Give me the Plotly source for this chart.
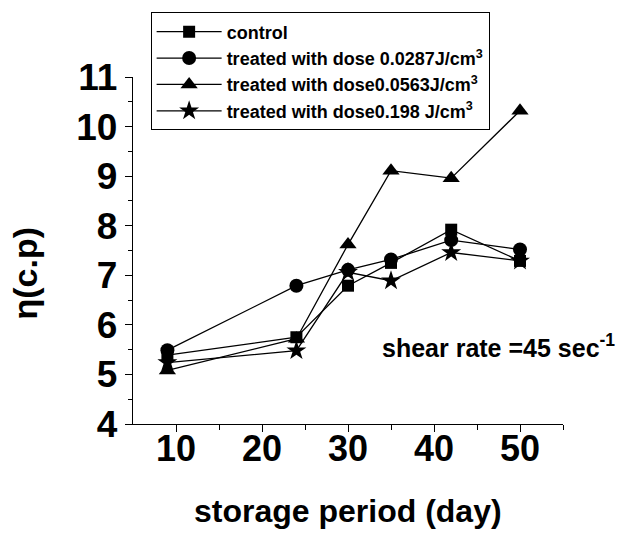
import plotly.graph_objects as go

days = [9, 24, 30, 35, 42, 50]
control = [5.39, 5.75, 6.79, 7.25, 7.92, 7.29]
dose_0287 = [5.49, 6.79, 7.11, 7.32, 7.71, 7.52]
dose_0563 = [5.08, 5.72, 7.62, 9.11, 8.96, 10.32]
dose_198 = [5.24, 5.48, 7.06, 6.89, 7.46, 7.29]

names = [
    "control",
    "treated with dose 0.0287J/cm<sup>3</sup>",
    "treated with dose0.0563J/cm<sup>3</sup>",
    "treated with dose0.198 J/cm<sup>3</sup>",
]
series = [control, dose_0287, dose_0563, dose_198]
symbols = ["square", "circle", "triangle-up", "star"]
sizes = [12, 14, 15, 15]

FONT = "Liberation Sans, Arial, sans-serif"

fig = go.Figure()
for nm, ys, sym, sz in zip(names, series, symbols, sizes):
    fig.add_trace(go.Scatter(
        x=days, y=ys, name=nm, mode="lines+markers",
        line=dict(color="black", width=1.3),
        marker=dict(symbol=sym, size=sz, color="black"),
    ))

fig.update_layout(
    width=633, height=537,
    margin=dict(l=133, r=70, t=71, b=113),
    plot_bgcolor="white", paper_bgcolor="white",
    showlegend=True,
    legend=dict(
        x=0.041, y=1.186, xanchor="left", yanchor="top",
        bgcolor="white", bordercolor="black", borderwidth=1,
        font=dict(family=FONT, size=18, color="black", weight="bold"),
        tracegroupgap=0, itemwidth=65, entrywidth=353, entrywidthmode="pixels",
    ),
    font=dict(family=FONT, color="black"),
)

fig.update_xaxes(
    range=[5, 55], tickvals=[10, 20, 30, 40, 50],
    showline=True, linecolor="black", linewidth=1.3,
    ticks="outside", ticklen=7, tickwidth=1.3, tickcolor="black",
    minor=dict(tickvals=[15, 25, 35, 45, 55], ticks="outside", ticklen=5, tickwidth=1.3, tickcolor="black"),
    showgrid=False, zeroline=False, ticklabelstandoff=-14,
    tickfont=dict(family=FONT, size=36, color="black", weight="bold"),
)
fig.update_yaxes(
    range=[4, 11], tickvals=[4, 5, 6, 7, 8, 9, 10, 11],
    showline=True, linecolor="black", linewidth=1.3,
    ticks="outside", ticklen=7, tickwidth=1.3, tickcolor="black",
    minor=dict(tickvals=[4.5, 5.5, 6.5, 7.5, 8.5, 9.5, 10.5], ticks="outside", ticklen=4, tickwidth=1.3, tickcolor="black"),
    showgrid=False, zeroline=False,
    tickfont=dict(family=FONT, size=37, color="black", weight="bold"),
)

fig.add_annotation(
    text="storage period (day)", xref="paper", yref="paper",
    x=0.5, y=-0.25, xanchor="center", yanchor="middle", showarrow=False,
    font=dict(family=FONT, size=32, color="black", weight="bold"),
)
fig.add_annotation(
    text="η(c.p)", xref="paper", yref="paper",
    x=-0.25, y=0.435, xanchor="center", yanchor="middle", showarrow=False,
    textangle=-90,
    font=dict(family=FONT, size=34, color="black", weight="bold"),
)
fig.add_annotation(
    text="shear rate =45 sec<sup>-1</sup>", xref="paper", yref="paper",
    x=0.575, y=0.224, xanchor="left", yanchor="middle", showarrow=False,
    font=dict(family=FONT, size=25, color="black", weight="bold"),
)

fig.write_html("out.html", config={"displayModeBar": False},
               post_script="document.body.style.margin='0px';")
